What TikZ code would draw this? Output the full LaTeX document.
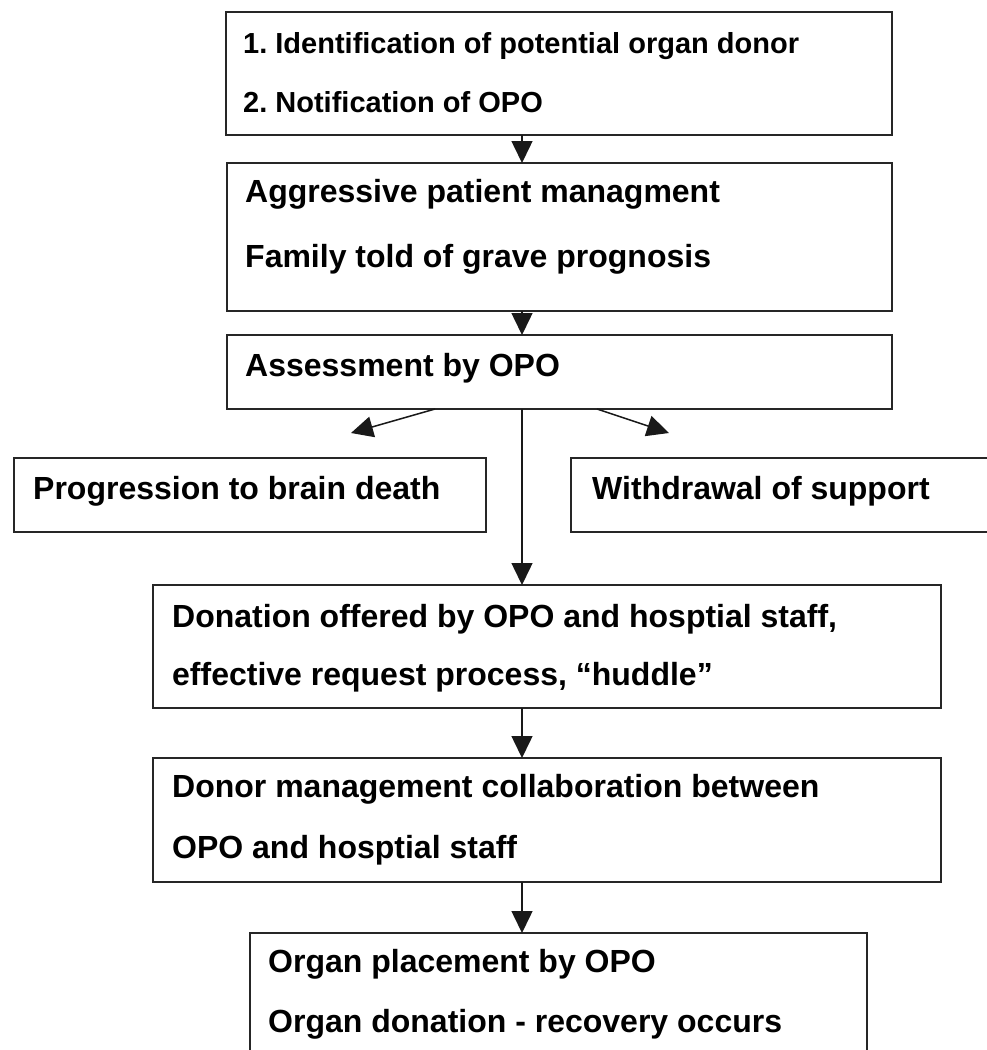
\documentclass[tikz,border=0pt]{standalone}
\usepackage{fontspec}
\setmainfont{Liberation Sans}
\usetikzlibrary{arrows.meta}
\frenchspacing
\begin{document}
\begin{tikzpicture}[x=1pt,y=-1pt,
  box/.style={draw=black!85,line width=1.8pt,inner sep=0pt,outer sep=0pt,anchor=north west},
  lbl/.style={anchor=base west,inner sep=0pt,font=\fontsize{32}{38}\selectfont\bfseries},
  lbls/.style={anchor=base west,inner sep=0pt,font=\fontsize{29}{35}\selectfont\bfseries},
  arr/.style={line width=1.5pt,draw=black!90,-{Triangle[length=22pt,width=21pt]}}]
\clip (0,0) rectangle (987,1050);
\fill[white] (0,0) rectangle (987,1050);
% boxes
\node[box,minimum width=666pt,minimum height=123pt] (b1) at (226,12) {};
\node[box,minimum width=665pt,minimum height=148pt] (b2) at (227,163) {};
\node[box,minimum width=665pt,minimum height=74pt] (b3) at (227,335) {};
\node[box,minimum width=472pt,minimum height=74pt] (b4) at (14,458) {};
\node[box,minimum width=440pt,minimum height=74pt] (b5) at (571,458) {};
\node[box,minimum width=788pt,minimum height=123pt] (b6) at (153,585) {};
\node[box,minimum width=788pt,minimum height=124pt] (b7) at (153,758) {};
\node[box,minimum width=617pt,minimum height=140pt] (b8) at (250,933) {};
% texts
\node[lbls] (t1a) at (243,53) {1. Identification of potential organ donor};
\node[lbls] (t1b) at (243,112) {2. Notification of OPO};
\node[lbl] (t2a) at (245,202) {Aggressive patient managment};
\node[lbl] (t2b) at (245,267) {Family told of grave prognosis};
\node[lbl] (t3) at (245,376) {Assessment by OPO};
\node[lbl] (t4) at (33,499) {Progression to brain death};
\node[lbl] (t5) at (592,499) {Withdrawal of support};
\node[lbl] (t6a) at (172,627) {Donation offered by OPO and hosptial staff,};
\node[lbl] (t6b) at (172,685) {effective request process, “huddle”};
\node[lbl] (t7a) at (172,797) {Donor management collaboration between};
\node[lbl] (t7b) at (172,858) {OPO and hosptial staff};
\node[lbl] (t8a) at (268,972) {Organ placement by OPO};
\node[lbl] (t8b) at (268,1032) {Organ donation - recovery occurs};
% connectors
\coordinate (vx) at (522,0);
\coordinate (d1s) at (435,409);
\coordinate (d1e) at (351,433);
\coordinate (d2s) at (597,409);
\coordinate (d2e) at (669,433);
\draw[arr] (b1.south -| vx) -- (b2.north -| vx);
\draw[arr] (b2.south -| vx) -- (b3.north -| vx);
\draw[arr] (d1s) -- (d1e);
\draw[arr] (d2s) -- (d2e);
\draw[arr] (b3.south -| vx) -- (b6.north -| vx);
\draw[arr] (b6.south -| vx) -- (b7.north -| vx);
\draw[arr] (b7.south -| vx) -- (b8.north -| vx);
\end{tikzpicture}
\end{document}
